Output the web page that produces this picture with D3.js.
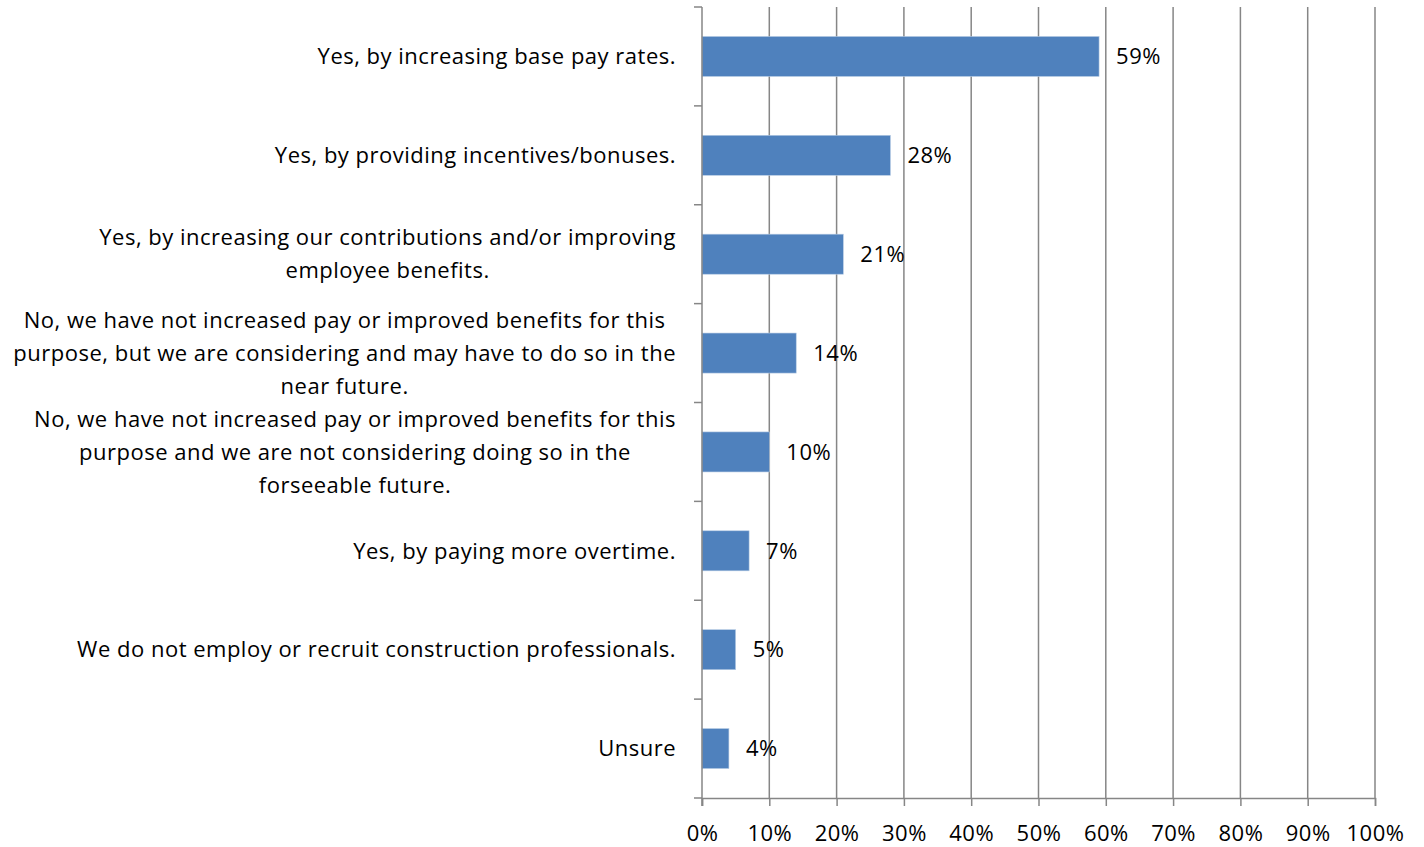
<!DOCTYPE html>
<html>
<head>
<meta charset="utf-8">
<script src="https://cdn.jsdelivr.net/npm/d3@7"></script>
<style>
  body { margin: 0; background: #fff; }
  text { font-family: "Open Sans", Lato, sans-serif; fill: #000; letter-spacing: 0.5px; }
</style>
</head>
<body>
<svg id="chart"></svg>
<script>
// Data
const categories = [
  "Yes, by increasing base pay rates.",
  "Yes, by providing incentives/bonuses.",
  "Yes, by increasing our contributions and/or improving\nemployee benefits.",
  "No, we have not increased pay or improved benefits for this\npurpose, but we are considering and may have to do so in the\nnear future.",
  "No, we have not increased pay or improved benefits for this\npurpose and we are not considering doing so in the\nforseeable future.",
  "Yes, by paying more overtime.",
  "We do not employ or recruit construction professionals.",
  "Unsure"
];
const values = [59, 28, 21, 14, 10, 7, 5, 4];
const xTicks = [0, 10, 20, 30, 40, 50, 60, 70, 80, 90, 100];

const W = 1424, H = 847;
const plot = { left: 702, right: 1375, top: 7, bottom: 798 };
const fontSize = 22;

const svg = d3.select("#chart").attr("width", W).attr("height", H);

const x = d3.scaleLinear().domain([0, 100]).range([plot.left, plot.right]);
const y = d3.scaleBand().domain(categories).range([plot.top, plot.bottom]).paddingInner(0.595).paddingOuter(0.2975);

// vertical gridlines
svg.append("g").selectAll("line")
  .data(xTicks.slice(1))
  .enter().append("line")
  .attr("x1", d => x(d)).attr("x2", d => x(d))
  .attr("y1", plot.top).attr("y2", plot.bottom)
  .attr("stroke", "#868686").attr("stroke-width", 1.5);

// bars
svg.append("g").selectAll("rect")
  .data(values)
  .enter().append("rect")
  .attr("x", x(0))
  .attr("y", (d, i) => y(categories[i]))
  .attr("width", d => x(d) - x(0))
  .attr("height", y.bandwidth())
  .attr("fill", "#4F81BD")
  .attr("stroke", "#b9cde5").attr("stroke-width", 0.6);

// value labels
svg.append("g").selectAll("text")
  .data(values)
  .enter().append("text")
  .attr("x", d => x(d) + 17)
  .attr("y", (d, i) => y(categories[i]) + y.bandwidth() / 2)
  .attr("dy", "0.35em")
  .attr("font-size", fontSize)
  .text(d => d + "%");

// y axis: line + ticks at band edges
const yAxis = svg.append("g");
yAxis.append("line")
  .attr("x1", plot.left).attr("x2", plot.left)
  .attr("y1", plot.top).attr("y2", plot.bottom + 8)
  .attr("stroke", "#868686").attr("stroke-width", 1.5);
const step = (plot.bottom - plot.top) / categories.length;
yAxis.selectAll(".tk")
  .data(d3.range(categories.length + 1))
  .enter().append("line")
  .attr("x1", plot.left - 8).attr("x2", plot.left)
  .attr("y1", i => plot.top + i * step).attr("y2", i => plot.top + i * step)
  .attr("stroke", "#868686").attr("stroke-width", 1.5);

// category labels (right edge of block at 676, lines centred within block)
const lineH = 33;
categories.forEach((c, i) => {
  const lines = c.split("\n");
  const g = svg.append("g");
  const cy = y(c) + y.bandwidth() / 2;
  const t = g.selectAll("text").data(lines).enter().append("text")
    .attr("font-size", fontSize)
    .attr("text-anchor", "middle")
    .attr("y", (d, j) => cy + (j - (lines.length - 1) / 2) * lineH)
    .attr("dy", "0.35em")
    .text(d => d);
  let maxW = 0;
  t.each(function() { maxW = Math.max(maxW, this.getComputedTextLength()); });
  t.attr("x", 676 - maxW / 2);
});

// x axis
const xAxis = svg.append("g")
  .attr("transform", `translate(0,${plot.bottom})`)
  .call(d3.axisBottom(x).tickValues(xTicks).tickSize(8).tickPadding(19).tickFormat(d => d + "%"));
xAxis.select(".domain").attr("stroke", "#868686").attr("stroke-width", 1.5);
xAxis.selectAll(".tick line").attr("stroke", "#868686").attr("stroke-width", 1.5);
xAxis.selectAll(".tick text").attr("font-size", fontSize).attr("font-family", "'Open Sans', sans-serif").attr("fill", "#000");
</script>
</body>
</html>
